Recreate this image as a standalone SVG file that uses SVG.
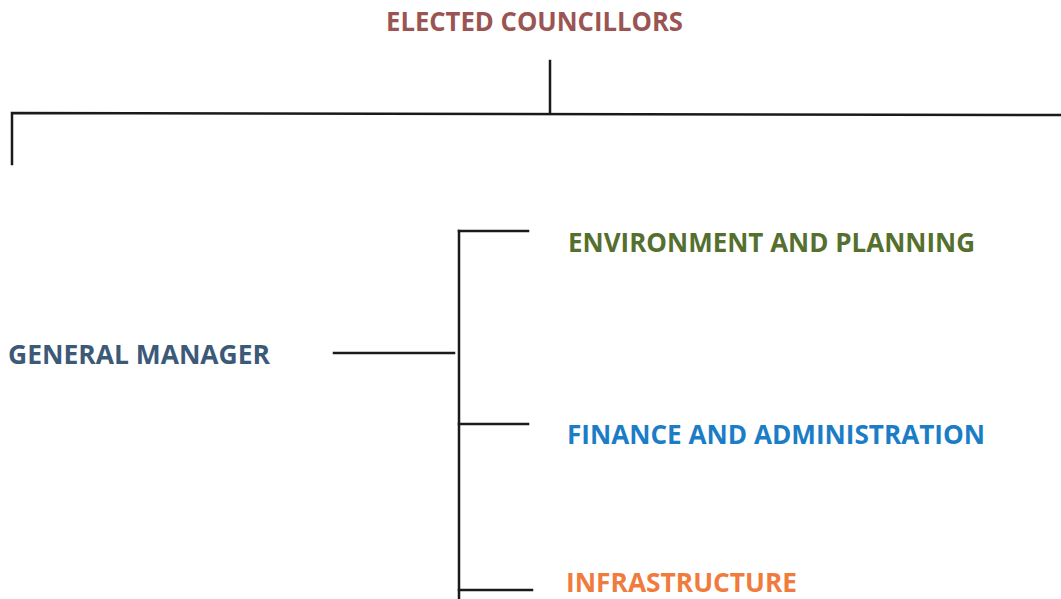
<svg xmlns="http://www.w3.org/2000/svg" width="1061" height="599" viewBox="0 0 1061 599">
<style>
text{font-family:"Open Sans","Noto Sans","Liberation Sans",sans-serif;font-weight:bold;font-size:26px}
.ln{stroke:#1a1a1a;stroke-width:2.5;fill:none;stroke-linecap:square}
</style>
<rect width="1061" height="599" fill="#ffffff"/>
<g id="connectors">
<line class="ln" x1="550" y1="61" x2="550" y2="112"/>
<polyline class="ln" points="12,164 12,113 1061,115"/>
<line class="ln" x1="334" y1="353" x2="454" y2="353"/>
<line class="ln" x1="459" y1="231" x2="459" y2="599"/>
<line class="ln" x1="459" y1="231" x2="528" y2="231"/>
<line class="ln" x1="459" y1="424" x2="528" y2="424"/>
<line class="ln" x1="459" y1="590" x2="532" y2="590"/>
</g>
<g id="elected-councillors"><text x="386" y="31" fill="#9a5552" textLength="297" lengthAdjust="spacingAndGlyphs">ELECTED COUNCILLORS</text></g>
<g id="general-manager"><text x="8" y="364" fill="#3c5a78" textLength="262" lengthAdjust="spacingAndGlyphs">GENERAL MANAGER</text></g>
<g id="environment-planning"><text x="568" y="252" fill="#55702e" textLength="407" lengthAdjust="spacingAndGlyphs">ENVIRONMENT AND PLANNING</text></g>
<g id="finance-administration"><text x="567" y="444" fill="#1b7dc6" textLength="418" lengthAdjust="spacingAndGlyphs">FINANCE AND ADMINISTRATION</text></g>
<g id="infrastructure"><text x="566" y="592" fill="#f07b3c" textLength="231" lengthAdjust="spacingAndGlyphs">INFRASTRUCTURE</text></g>
</svg>
